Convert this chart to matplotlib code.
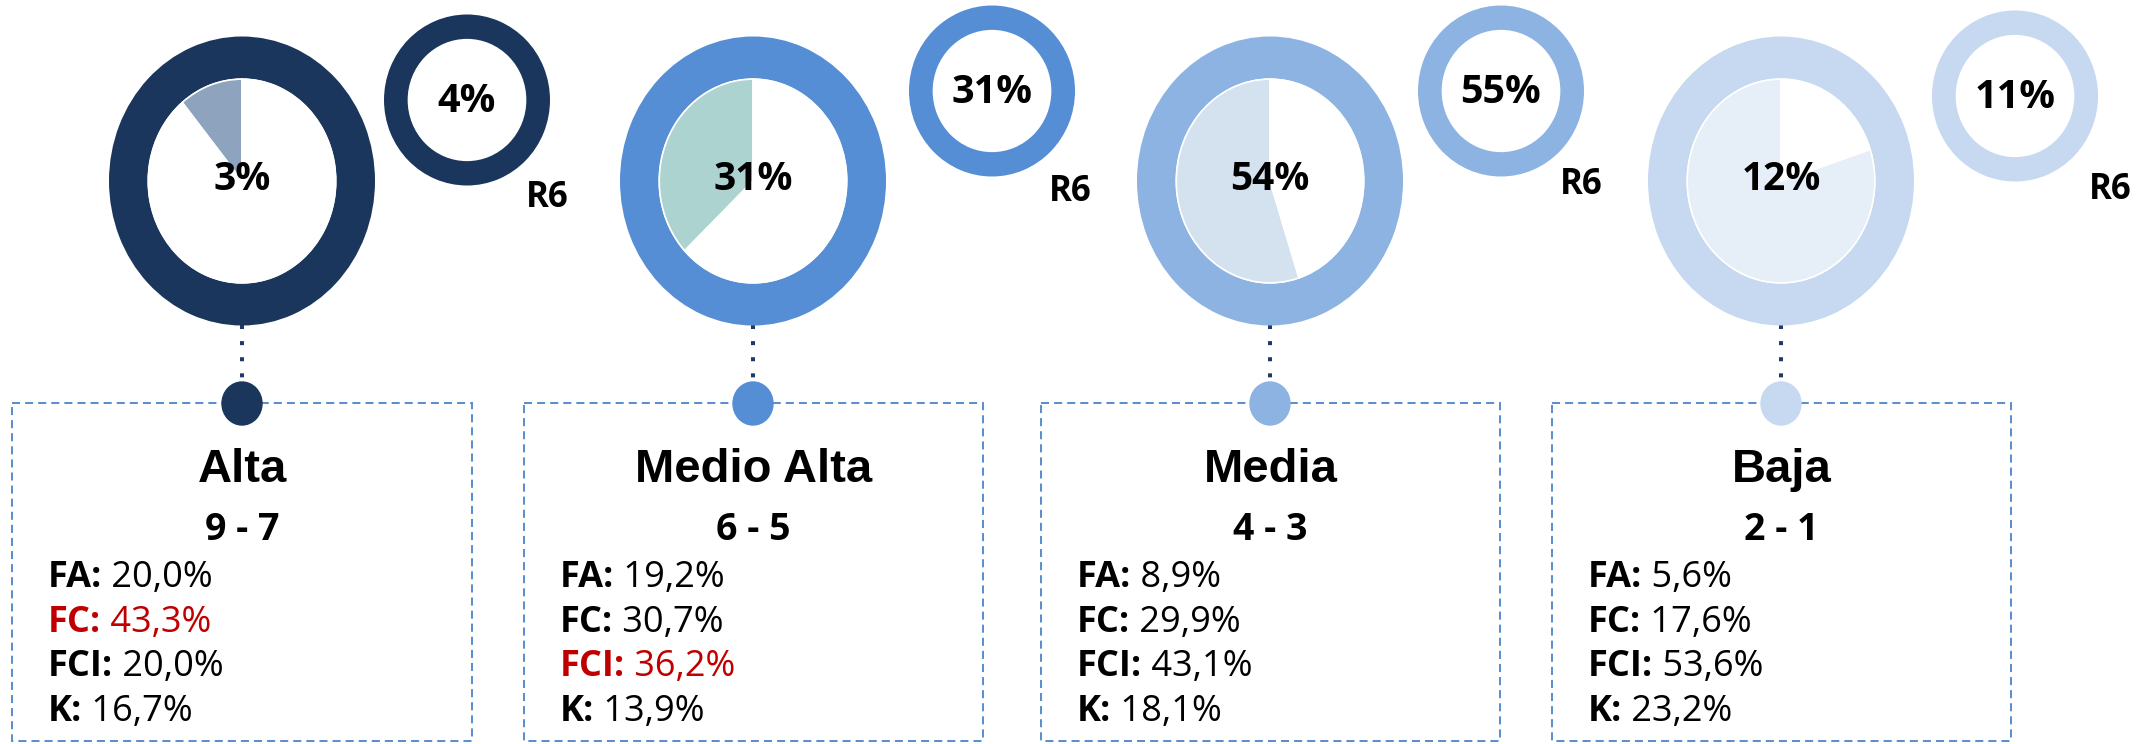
import matplotlib
matplotlib.use("Agg")
import matplotlib.pyplot as plt
from matplotlib.patches import Rectangle, Ellipse

# data
groups = ["Alta", "Medio Alta", "Media", "Baja"]
ranges = ["9 - 7", "6 - 5", "4 - 3", "2 - 1"]
center_pct = [3, 31, 54, 12]
r6_pct = [4, 31, 55, 11]
wedge_share = [0.11, 0.37, 0.55, 0.80]
row_names = ["FA", "FC", "FCI", "K"]
fa = [20.0, 19.2, 8.9, 5.6]
fc = [43.3, 30.7, 29.9, 17.6]
fci = [20.0, 36.2, 43.1, 53.6]
k = [16.7, 13.9, 18.1, 23.2]
highlight = ["FC", "FCI", None, None]

# layout (pixels)
W, H = 2144, 744
ring_x = [242, 753, 1270, 1781]
ring_y = 181
small_xy = [(467, 100), (992, 91), (1501, 91), (2015, 96)]
r6_xy = [(547, 198), (1070, 192), (1581, 185), (2110, 190)]
box_lr = [(12, 472), (524, 983), (1041, 1500), (1552, 2011)]

ring_col = ["#1b365d", "#558ed5", "#8db3e2", "#c6d9f0"]
wedge_col = ["#8ea4be", "#acd3cf", "#d4e1ef", "#e6eef8"]
red = "#c00000"
body_font = "Open Sans"
title_font = "Liberation Sans"

fig = plt.figure(figsize=(W / 100, H / 100), dpi=100)
ax = fig.add_axes([0, 0, 1, 1])
ax.set_xlim(0, W)
ax.set_ylim(H, 0)
ax.axis("off")


def px_axes(cx, cy, rx, ry):
    a = fig.add_axes([(cx - rx) / W, 1 - (cy + ry) / H, 2 * rx / W, 2 * ry / H])
    return a


def fmt(v):
    return f"{v:.1f}".replace(".", ",") + "%"


rows = [fa, fc, fci, k]

for i, g in enumerate(groups):
    cx = ring_x[i]

    # dotted connector
    ax.plot([cx, cx], [325, 382], color="#1f3b63", lw=2.9,
            linestyle=(0, (1, 3)), solid_capstyle="butt", zorder=2)

    # big ring + inner pie
    a = px_axes(cx, ring_y, 133, 144.5)
    a.pie([1], radius=1, colors=[ring_col[i]], wedgeprops=dict(width=0.29))
    a.pie([wedge_share[i], 1 - wedge_share[i]], radius=0.705, startangle=90,
          colors=[wedge_col[i], "white"],
          wedgeprops=dict(edgecolor="white", linewidth=1.2))
    a.set_aspect("auto")
    a.set_xlim(-1, 1)
    a.set_ylim(-1, 1)
    a.axis("off")
    a.text(0, 0.01, f"{center_pct[i]}%", ha="center", va="center",
           fontsize=28, fontweight="bold", family=body_font)

    # small R6 ring
    sx, sy = small_xy[i]
    b = px_axes(sx, sy, 83, 85.5)
    b.pie([1], radius=1, colors=[ring_col[i]], wedgeprops=dict(width=0.285))
    b.set_aspect("auto")
    b.set_xlim(-1, 1)
    b.set_ylim(-1, 1)
    b.axis("off")
    b.text(0, -0.015, f"{r6_pct[i]}%", ha="center", va="center",
           fontsize=28.5, fontweight="bold", family=body_font)
    ax.text(r6_xy[i][0], r6_xy[i][1], "R6", ha="center", va="center",
            fontsize=25, fontweight="bold", family=body_font)

    # dashed box
    l, r = box_lr[i]
    ax.add_patch(Rectangle((l, 403), r - l, 338, fill=False,
                           edgecolor="#5b8fce", lw=1.45,
                           linestyle=(0, (4, 2.5)), zorder=3))
    ax.add_patch(Ellipse((cx, 403.5), 40, 43, color=ring_col[i], zorder=5))

    ax.text((l + r) / 2, 470, g, ha="center", va="center", fontsize=34,
            fontweight="bold", family=title_font)
    ax.text((l + r) / 2, 530, ranges[i], ha="center", va="center",
            fontsize=27, fontweight="bold", family=body_font)

    for j, name in enumerate(row_names):
        col = red if highlight[i] == name else "black"
        y = 578 + j * 44.7
        t = ax.text(l + 36, y, name + ":", ha="left", va="center",
                    fontsize=26, fontweight="bold", family=body_font, color=col)
        ax.annotate(" " + fmt(rows[j][i]), xy=(1, 0), xycoords=t,
                    ha="left", va="bottom", fontsize=26,
                    family=body_font, color=col)

fig.savefig("out.png", dpi=100)
